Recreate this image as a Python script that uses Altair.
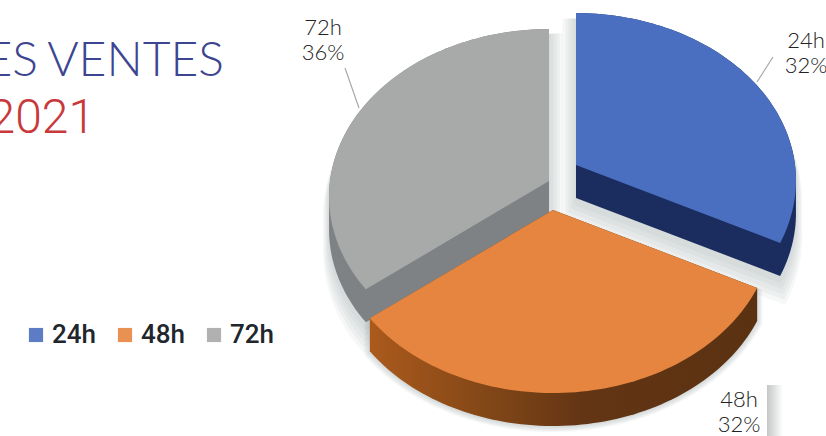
import math
import altair as alt
import pandas as pd

# Slices of the exploded pie
categories = ["24h", "48h", "72h"]
shares = [32, 32, 36]
share_labels = ["32%", "32%", "36%"]
top_colors = ["#4a6fc0", "#e58540", "#a8a9a9"]
side_colors = ["#1b2d5f", "#6a3a14", "#7e8284"]
apex_points = [(576, 165), (553, 210), (549, 181)]

# Perspective of the tilted disc and the thickness of the slices
RX, RY, TILT, DEPTH, SKEW = 219, 166, 0.093, 33, 1.8
# Soft cast shadow: (growth, drop) per slice, built from stacked translucent outlines
SHADOW_STEPS = [
    [(1.01, 6), (1.03, 8), (1.05, 10), (1.07, 12), (1.09, 14)],
    [(1.004, 1), (1.01, 2), (1.016, 3), (1.022, 4), (1.028, 5)],
    [(1.01, 6), (1.03, 8), (1.05, 10), (1.07, 12), (1.09, 14)],
]


def project(apex, turn):
    """Map a point on the rim (turn in degrees, clockwise from 12 o'clock) to the page."""
    turn = turn + SKEW * math.sin(math.radians(turn / 2))
    u, v = math.sin(math.radians(turn)), math.cos(math.radians(turn))
    w = 1 + TILT * v
    return (apex[0] + RX * u / w, apex[1] - RY * v / w)


def hull(points):
    pts = sorted(set(points))

    def half(seq):
        out = []
        for p in seq:
            while len(out) > 1 and (out[-1][0] - out[-2][0]) * (p[1] - out[-2][1]) - (out[-1][1] - out[-2][1]) * (p[0] - out[-2][0]) <= 0:
                out.pop()
            out.append(p)
        return out[:-1]

    return half(pts) + half(pts[::-1])


def feature(points, name):
    ring = [list(p) for p in points] + [list(points[0])]
    return {"type": "Feature", "properties": {"name": name},
            "geometry": {"type": "Polygon", "coordinates": [ring]}}


tops, sides, shadows = [], [], []
start = 0.0
for name, share, apex, steps_shadow in zip(categories, shares, apex_points, SHADOW_STEPS):
    end = start + share * 3.6
    steps = 80
    rim = [project(apex, start + (end - start) * i / steps) for i in range(steps + 1)]
    wedge = [apex] + rim
    tops.append(feature(wedge, name))
    outline = hull(wedge + [(x, y + DEPTH) for x, y in wedge])
    sides.append(feature(outline, name))
    cx = sum(p[0] for p in outline) / len(outline)
    cy = sum(p[1] for p in outline) / len(outline)
    for g, drop in steps_shadow:
        shadows.append(feature([(cx + (x - cx) * g, cy + (y - cy) * g + drop) for x, y in outline], name))
    start = end


def shapes(items):
    return alt.Chart(alt.Data(values=items, format=alt.DataFormat(type="json")))


def pixel_space(chart):
    return chart.project(type="identity", scale=1, translate=[0, 0])


shadow_layer = pixel_space(shapes(shadows).mark_geoshape(fill="#7b8790", fillOpacity=0.07))

side_gradient = alt.Gradient(
    gradient="linear", x1=0, x2=1, y1=0, y2=0,
    stops=[alt.GradientStop(offset=0, color="#ab5a1c"),
           alt.GradientStop(offset=0.3, color="#834717"),
           alt.GradientStop(offset=0.55, color="#633514"),
           alt.GradientStop(offset=1, color="#5a3212")],
)


def side_layer(i, fill):
    return pixel_space(shapes([sides[i]]).mark_geoshape(fill=fill))


def top_layer(i):
    return pixel_space(shapes([tops[i]]).mark_geoshape().encode(
        color=alt.Color("properties.name:N",
                        scale=alt.Scale(domain=categories, range=top_colors),
                        legend=alt.Legend(title=None, orient="none", legendX=23, legendY=322,
                                          direction="horizontal", symbolType="square", symbolSize=200,
                                          symbolStrokeWidth=0, symbolOpacity=0.9,
                                          labelFont="Roboto", labelFontSize=26, labelFontWeight=500,
                                          labelColor="#20262c", columnPadding=15, labelOffset=3))
    ))


# Leader lines from the slices to their labels
leader_x = [345, 359, 773, 757]
leader_y = [68, 108, 57, 82]
leader_group = ["72h", "72h", "24h", "24h"]
leaders = alt.Chart(pd.DataFrame({"x": leader_x, "y": leader_y, "g": leader_group})).mark_line(
    color="#a9a9a9", strokeWidth=1.2
).encode(
    x=alt.X("x:Q", scale=alt.Scale(domain=[0, 826]), axis=None),
    y=alt.Y("y:Q", scale=alt.Scale(domain=[436, 0]), axis=None),
    detail="g:N",
)

# White label plate with the soft edge on its right side
plate_shadow = alt.Chart(pd.DataFrame({"x": [767], "x2": [783], "y": [436], "y2": [385]})).mark_rect(
    fill=alt.Gradient(gradient="linear", x1=0, x2=1, y1=0, y2=0,
                      stops=[alt.GradientStop(offset=0, color="#c4c6c7"),
                             alt.GradientStop(offset=1, color="#ffffff")])
).encode(
    x=alt.X("x:Q", scale=alt.Scale(domain=[0, 826]), axis=None),
    x2="x2:Q",
    y=alt.Y("y:Q", scale=alt.Scale(domain=[436, 0]), axis=None),
    y2="y2:Q",
)


def label(text, x, y, size=22, color="#222222", align="center", weight=300, font="Lato"):
    return alt.Chart(pd.DataFrame({"t": [text]})).mark_text(
        font=font, fontSize=size, fontWeight=weight, color=color, align=align, baseline="alphabetic"
    ).encode(text="t:N", x=alt.value(x), y=alt.value(y))


label_x = [806, 739, 323]
label_y = [48, 407, 35]
slice_labels = []
for name, pct, x, y in zip(categories, share_labels, label_x, label_y):
    slice_labels += [label(name, x, y), label(pct, x, y + 25)]

title_left = label("ES", 38, 76, size=48, color="#3d4490", align="right")
title_right = label("VENTES", 224, 76, size=48, color="#3d4490", align="right")
year_line = label("2021", 95, 133, size=48, color="#c9383b", align="right", font="Roboto")

chart = alt.layer(
    shadow_layer,
    side_layer(2, side_colors[2]), top_layer(2),
    side_layer(0, side_colors[0]), top_layer(0),
    side_layer(1, side_gradient), top_layer(1),
    leaders, plate_shadow,
    *slice_labels, title_left, title_right, year_line,
).properties(
    width=826, height=436, padding=0, autosize=alt.AutoSizeParams(type="none")
).configure_view(stroke=None)

chart.save("out.html", embed_options={"renderer": "svg", "actions": False})
